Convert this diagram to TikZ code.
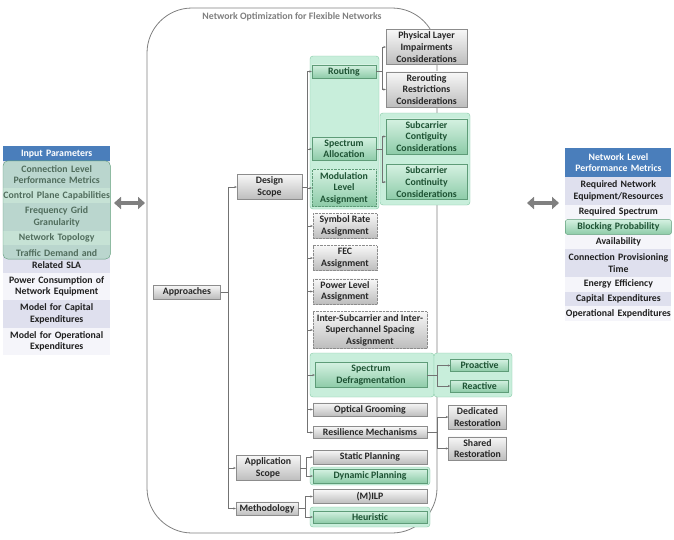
\documentclass[tikz,border=0pt]{standalone}
\usepackage{fontspec}
\setmainfont{Carlito}
\usetikzlibrary{matrix,arrows.meta,shadows}
\definecolor{hdblue}{HTML}{4A7EBB}
\definecolor{lav}{HTML}{DFE0EE}
\definecolor{pale}{HTML}{F5F5FA}
\definecolor{mint}{HTML}{C8EEDB}
\definecolor{mintline}{HTML}{86CBA6}
\definecolor{gtop}{HTML}{D4F1E1}
\definecolor{gbot}{HTML}{8DCBA8}
\definecolor{gline}{HTML}{5E9C78}
\definecolor{gtext}{HTML}{1D5233}

\begin{document}
\begin{tikzpicture}[x=1pt,y=-1pt,
    txt/.style={font=\fontsize{9.8}{11.6}\selectfont\bfseries, align=center},
    box/.style={txt, draw=black!45, top color=black!3, bottom color=black!26,
        text=black!85, inner xsep=1.5pt, inner ysep=2.5pt,
        drop shadow={shadow xshift=.7pt,shadow yshift=-.7pt,opacity=.25}},
    gbox/.style={box, draw=gline, top color=gtop, bottom color=gbot, text=gtext},
    dotbox/.style={densely dotted},
    short/.style={minimum width=64pt},
    long/.style={minimum width=114pt},
    side/.style={minimum width=81pt},
    tip/.style={minimum width=58pt},
    grp/.style={draw=mintline, fill=mint, rounded corners=3pt},
    cell/.style={txt, text width=107pt, inner xsep=0pt, inner ysep=2pt,
        minimum height=14.8pt, text=black!88},
    two/.style={nodes={minimum height=27.4pt}},
    head/.style={fill=hdblue, text=white},
    link/.style={draw=black!55, line width=.5pt, -{Stealth[length=2.5pt,width=2.2pt]}},
    bigarrow/.style={draw=black!50, line width=4.5pt,
        {Triangle[length=7pt,width=12pt]}-{Triangle[length=7pt,width=12pt]}}]

    \path[use as bounding box, fill=white] (0,0) rectangle (674,539);

    % frame
    \draw[black!50, line width=.8pt, rounded corners=45pt] (147,8) rectangle (437,533);
    \node[txt, text=black!50] (ttl) at (292,17) {Network Optimization for Flexible Networks};

    % input list
    \matrix (inp) [matrix of nodes, anchor=north west, inner sep=0pt, row sep=0pt,
        nodes={cell},
        row 2/.style={two}, row 4/.style={two}, row 6/.style={two},
        row 7/.style={two}, row 8/.style={two}, row 9/.style={two},
        every odd row/.style={nodes={fill=pale}},
        every even row/.style={nodes={fill=lav}},
        row 1 column 1/.style={nodes={head}}
    ] at (3,146)
    {
        Input Parameters \\
        Connection Level\break Performance Metrics \\
        Control Plane Capabilities \\
        Frequency Grid\break Granularity \\
        Network Topology \\
        Traffic Demand and\break Related SLA \\
        Power Consumption of\break Network Equipment \\
        Model for Capital\break Expenditures \\
        Model for Operational\break Expenditures \\
    };
    \draw[draw=gline, fill=gbot, fill opacity=.45, rounded corners=5pt]
        (inp-2-1.north west) rectangle (inp-6-1.east);

    % output list
    \matrix (outp) [matrix of nodes, anchor=north west, inner sep=0pt, row sep=0pt,
        nodes={cell, text width=106pt},
        row 1/.style={two}, row 2/.style={two}, row 6/.style={two},
        every odd row/.style={nodes={fill=pale}},
        every even row/.style={nodes={fill=lav}},
        row 1 column 1/.style={nodes={head, minimum height=29pt}},
        row 4 column 1/.style={nodes={draw=gline, top color=gtop, bottom color=gbot,
            text=gtext, rounded corners=2pt}}
    ] at (565,148)
    {
        Network Level\break Performance Metrics \\
        Required Network\break Equipment/Resources \\
        Required Spectrum \\
        Blocking Probability \\
        Availability \\
        Connection Provisioning\break Time \\
        Energy Efficiency \\
        Capital Expenditures \\
        Operational Expenditures \\
    };

    \coordinate (la) at (114,203);
    \coordinate (lb) at (145,203);
    \coordinate (ra) at (527,203);
    \coordinate (rb) at (559,203);
    \draw[bigarrow] (la) -- (lb);
    \draw[bigarrow] (ra) -- (rb);

    % green groups
    \draw[grp] (310,56) rectangle (379,209);
    \draw[grp] (380,113) rectangle (470,205);
    \draw[grp] (310,353) rectangle (434,397);
    \draw[grp] (434,353) rectangle (512,397);
    \draw[grp] (310,467) rectangle (430,485);
    \draw[grp] (310,507) rectangle (430,527);

    \node[box, minimum width=67pt] (appr) at (187,292) {Approaches};
    \node[box, minimum width=65pt] (design) at (269.5,187) {Design\\Scope};
    \node[box, minimum width=64pt] (appl) at (268,468) {Application\\Scope};
    \node[box, minimum width=62pt] (meth) at (267,508.5) {Methodology};

    \node[gbox, short] (rout) at (344,71.5) {Routing};
    \node[gbox, short] (spal) at (344,149) {Spectrum\\Allocation};
    \node[gbox, short, dotbox] (modu) at (344,188) {Modulation\\Level\\Assignment};
    \node[box, short, dotbox] (symb) at (345,226) {Symbol Rate\\Assignment};
    \node[box, short, dotbox] (fec) at (345,258) {FEC\\Assignment};
    \node[box, short, dotbox] (powr) at (345,291.5) {Power Level\\Assignment};
    \node[box, long, dotbox] (insp) at (370,330)
        {Inter-Subcarrier and Inter-\\Superchannel Spacing\\Assignment};
    \node[gbox, minimum width=112pt] (defr) at (371,375) {Spectrum\\Defragmentation};
    \node[box, long] (groom) at (370,409.5) {Optical Grooming};
    \node[box, long] (resil) at (370,432.5) {Resilience Mechanisms};
    \node[box, long] (stat) at (370,457) {Static Planning};
    \node[gbox, long] (dyn) at (370,476) {Dynamic Planning};
    \node[box, long] (milp) at (370,496.5) {(M)ILP};
    \node[gbox, long] (heur) at (370,517) {Heuristic};

    \node[box, side] (phys) at (426.5,47) {Physical Layer\\Impairments\\Considerations};
    \node[box, side] (rerout) at (426.5,89.5) {Rerouting\\Restrictions\\Considerations};
    \node[gbox, side] (contig) at (426.5,136.5) {Subcarrier\\Contiguity\\Considerations};
    \node[gbox, side] (contin) at (426.5,182) {Subcarrier\\Continuity\\Considerations};
    \node[gbox, tip] (proact) at (479.5,365.5) {Proactive};
    \node[gbox, tip] (react) at (479.5,386) {Reactive};
    \node[box, tip] (dedic) at (477.5,417) {Dedicated\\Restoration};
    \node[box, tip] (shared) at (477.5,448.5) {Shared\\Restoration};

    \foreach \n in {design,appl,meth}
        \draw[link] (appr.east) -- ++(8,0) |- (\n.west);
    \foreach \n in {rout,spal,modu,symb,fec,powr,insp,defr,groom,resil}
        \draw[link] (design.east) -- ++(5,0) |- (\n.west);
    \foreach \n in {phys,rerout}
        \draw[link] (rout.east) -- ++(6,0) |- (\n.west);
    \foreach \n in {contig,contin}
        \draw[link] (spal.east) -- ++(6,0) |- (\n.west);
    \foreach \n in {proact,react}
        \draw[link] (defr.east) -- ++(10,0) |- (\n.west);
    \foreach \n in {dedic,shared}
        \draw[link] (resil.east) -- ++(10,0) |- (\n.west);
    \foreach \n in {stat,dyn}
        \draw[link] (appl.east) -- ++(6,0) |- (\n.west);
    \foreach \n in {milp,heur}
        \draw[link] (meth.east) -- ++(7,0) |- (\n.west);

\end{tikzpicture}
\end{document}
